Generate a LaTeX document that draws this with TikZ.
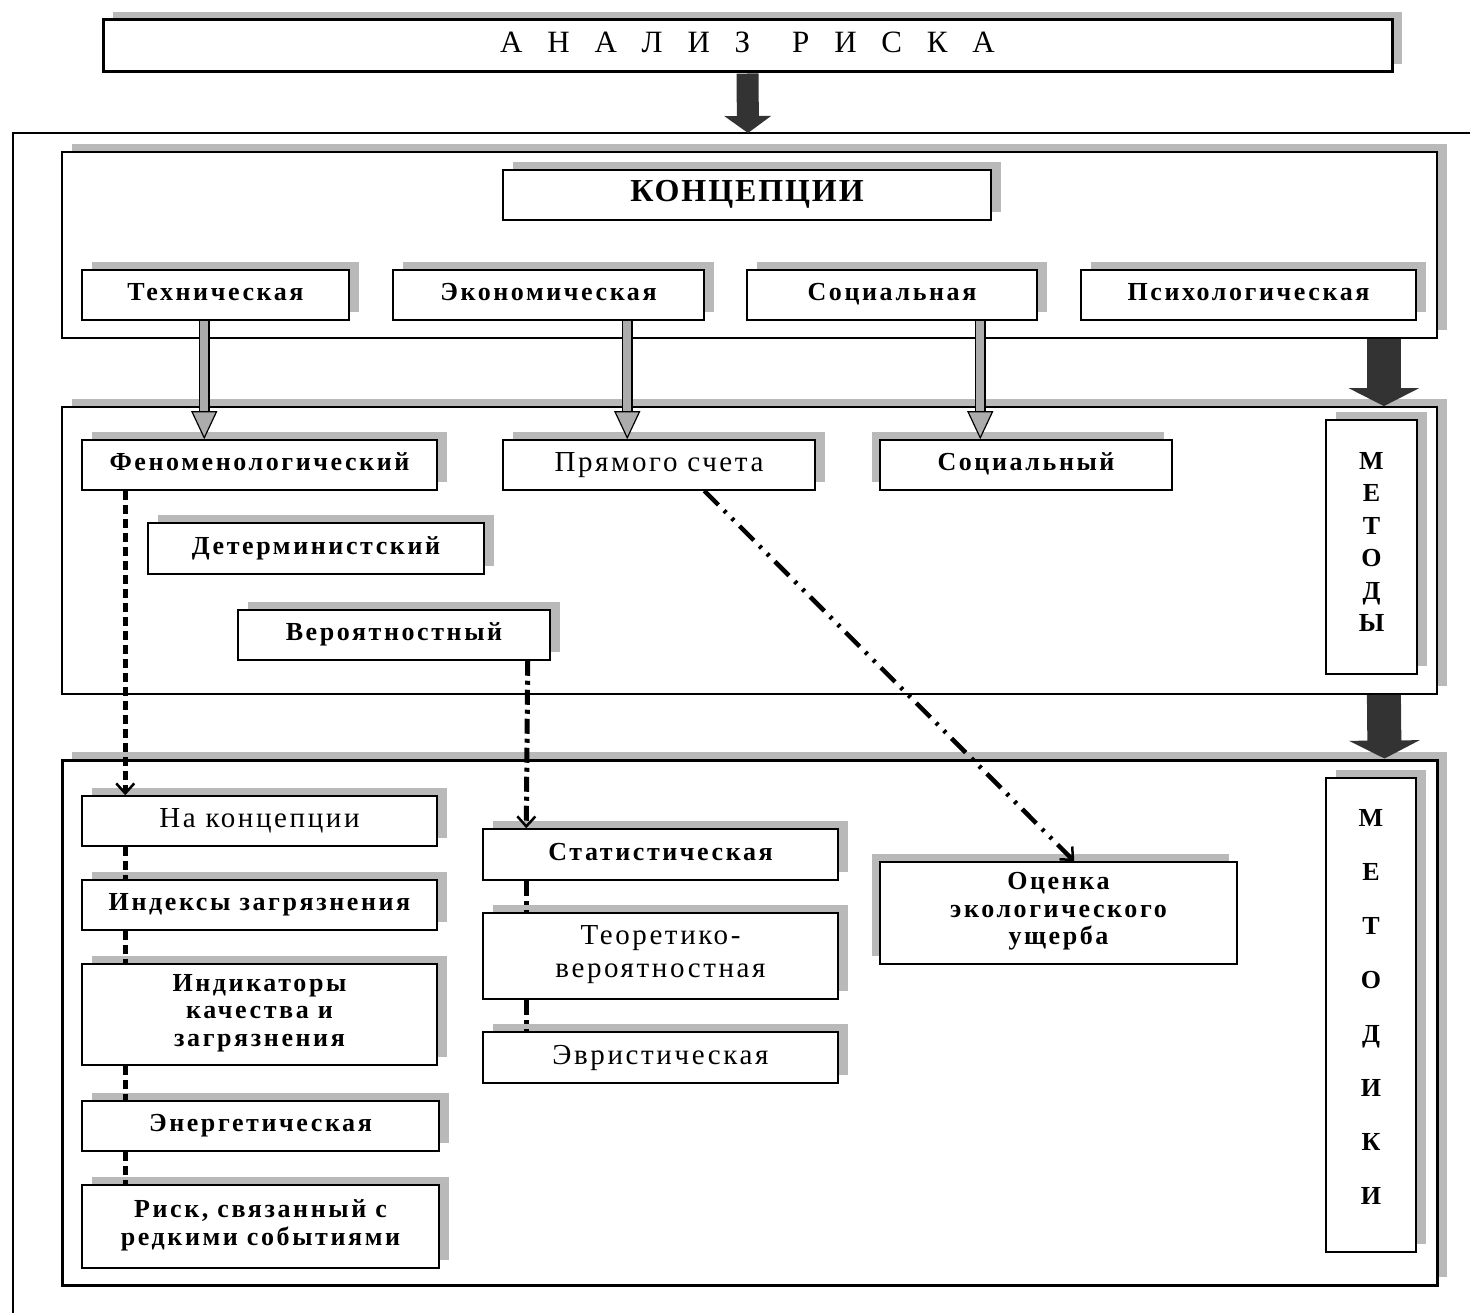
\documentclass[tikz,border=0pt]{standalone}
\usepackage{fontspec}
\setmainfont{Liberation Serif}
\usetikzlibrary{arrows.meta,shadows}
\newcommand{\labelfont}{\fontsize{26}{27.5}\selectfont\bfseries\addfontfeature{LetterSpace=10}}
\newcommand{\bigfont}{\fontsize{29}{33}\selectfont\addfontfeature{LetterSpace=9}}
\newcommand{\letterfont}{\fontsize{26}{32.5}\selectfont\bfseries}
\tikzstyle{plainbox}=[
        draw=black,
        line width=1.5pt,
        fill=white,
        inner sep=0pt,
        align=center,
        font=\labelfont,
        execute at begin node=\strut,
        execute at end node=\strut
]
\tikzstyle{rshadow}=[general shadow={fill=gray!55, shadow xshift=10pt, shadow yshift=8pt}]
\tikzstyle{lshadow}=[general shadow={fill=gray!55, shadow xshift=-8pt, shadow yshift=8pt}]
\tikzstyle{itembox}=[plainbox, rshadow]
\tikzstyle{leftbox}=[plainbox, lshadow]
\tikzstyle{areabox}=[plainbox, rshadow, line width=1.8pt]
\tikzstyle{lettercol}=[itembox, execute at begin node={}, execute at end node={}]
\tikzstyle{bigarrow}=[
        draw=black!80,
        line width=22pt,
        -{Triangle[length=17pt,width=46pt]}
]
\tikzstyle{grayarrow}=[
        draw=black,
        line width=11pt,
        -{Triangle[length=28pt,width=26pt,fill=gray!65,line width=1.2pt]},
        postaction={draw=gray!65, line width=8pt, -, shorten >=28pt}
]
\tikzstyle{dashlink}=[
        line width=4.5pt,
        dash pattern=on 9pt off 5pt
]
\tikzstyle{dotlink}=[
        line width=5pt,
        dash pattern=on 15pt off 5pt on 4pt off 5pt
]
\tikzstyle{dotdotlink}=[
        line width=4.5pt,
        dash pattern=on 20pt off 8pt on 3pt off 8pt on 3pt off 8pt
]
\tikzstyle{barb}=[-{Straight Barb[length=10pt,width=18pt,line width=2.5pt]}]

\begin{document}
\begin{tikzpicture}[x=1pt,y=-1pt]
    \path[use as bounding box, fill=white] (0,0) rectangle (1470,1313);

    % title and outer frame
    \node[plainbox, rshadow, line width=3pt, minimum width=1289pt, minimum height=52pt,
          font=\fontsize{31}{32}\selectfont\addfontfeature{LetterSpace=80}]
          (title) at (747.5,46) {АНАЛИЗ\hspace{42pt}РИСКА};
    \coordinate (frametop) at (748,133);
    \draw[line width=2.5pt] (13,1313) -- (13,133) -- (1470,133);
    \draw[bigarrow] (title.south) -- (frametop);

    % concepts
    \node[areabox, minimum width=1375pt, minimum height=186pt] (conceptframe) at (749.5,245) {};
    \node[itembox, minimum width=488pt, minimum height=50pt,
          font=\fontsize{32}{34}\selectfont\bfseries\addfontfeature{LetterSpace=6}]
          (konc) at (747,195) {КОНЦЕПЦИИ};
    \node[itembox, minimum width=267pt, minimum height=50pt] (tech) at (215.5,295) {Техническая};
    \node[itembox, minimum width=311pt, minimum height=50pt] (econ) at (548.5,295) {Экономическая};
    \node[itembox, minimum width=290pt, minimum height=50pt] (soc) at (892,295) {Социальная};
    \node[itembox, minimum width=335pt, minimum height=50pt] (psy) at (1248.5,295) {Психологическая};

    % methods
    \node[areabox, minimum width=1375pt, minimum height=287pt] (methframe) at (749.5,550.5) {};
    \node[itembox, minimum width=355pt, minimum height=50pt] (phen) at (259.5,465) {Феноменологический};
    \node[itembox, minimum width=312pt, minimum height=50pt, font=\bigfont] (direct) at (659,465) {Прямого счета};
    \node[leftbox, minimum width=292pt, minimum height=50pt] (socm) at (1026,465) {Социальный};
    \node[itembox, minimum width=336pt, minimum height=51pt] (determ) at (316,548.5) {Детерминистский};
    \node[itembox, minimum width=312pt, minimum height=50pt] (prob) at (394,635) {Вероятностный};
    \node[lettercol, minimum width=91pt, minimum height=254pt, font=\letterfont]
          (methods) at (1371.5,547) {М\\Е\\Т\\О\\Д\\Ы};

    % techniques
    \node[areabox, line width=3pt, minimum width=1375pt, minimum height=525pt] (techframe) at (749.5,1022.5) {};
    \node[itembox, minimum width=355pt, minimum height=50pt, font=\bigfont] (nakonc) at (259.5,821) {На концепции};
    \node[itembox, minimum width=355pt, minimum height=50pt] (index) at (259.5,905) {Индексы загрязнения};
    \node[itembox, minimum width=355pt, minimum height=101pt] (indic) at (259.5,1014.5) {Индикаторы\\качества и\\загрязнения};
    \node[itembox, minimum width=357pt, minimum height=50pt] (energ) at (260.5,1126) {Энергетическая};
    \node[itembox, minimum width=357pt, minimum height=83pt] (rare) at (260.5,1226.5) {Риск, связанный с\\редкими событиями};
    \node[itembox, minimum width=355pt, minimum height=51pt] (stat) at (660.5,854.5) {Статистическая};
    \node[itembox, minimum width=355pt, minimum height=86pt, font=\bigfont] (theor) at (660.5,956) {Теоретико-\\вероятностная};
    \node[itembox, minimum width=355pt, minimum height=51pt, font=\bigfont] (heur) at (660.5,1057.5) {Эвристическая};
    \node[leftbox, minimum width=357pt, minimum height=102pt] (eco) at (1058.5,913) {Оценка\\экологического\\ущерба};
    \node[lettercol, minimum width=90pt, minimum height=474pt,
          font=\fontsize{26}{54.1}\selectfont\bfseries]
          (methodics) at (1371,1015) {М\\Е\\Т\\О\\Д\\И\\К\\И};

    % big arrows on the right
    \draw[bigarrow, line width=34pt, -{Triangle[length=18pt,width=70pt]}]
        ([xshift=-54pt]conceptframe.south east) -- ([xshift=-54pt]methframe.north east);
    \draw[bigarrow, line width=34pt, -{Triangle[length=18pt,width=70pt]}]
        ([xshift=-54pt]methframe.south east) -- ([xshift=-54pt]techframe.north east);

    % concepts to methods
    \draw[grayarrow] ([xshift=123pt]tech.south west) -- ([xshift=123pt]phen.north west);
    \draw[grayarrow] ([xshift=235pt]econ.south west) -- ([xshift=125pt]direct.north west);
    \draw[grayarrow] ([xshift=234pt]soc.south west) -- ([xshift=101pt]socm.north west);

    % methods to techniques
    \draw[dashlink, barb] ([xshift=44pt]phen.south west) -- ([xshift=44pt]nakonc.north west);
    \draw[dashlink] ([xshift=44pt]nakonc.south west) -- ([xshift=44pt]index.north west);
    \draw[dashlink] ([xshift=44pt]index.south west) -- ([xshift=44pt]indic.north west);
    \draw[dashlink] ([xshift=44pt]indic.south west) -- ([xshift=44pt]energ.north west);
    \draw[dashlink] ([xshift=44pt]energ.south west) -- ([xshift=44pt]rare.north west);

    \draw[dotlink, barb] ([xshift=-23pt]prob.south east) -- ([xshift=44pt]stat.north west);
    \draw[dotlink] ([xshift=44pt]stat.south west) -- ([xshift=44pt]theor.north west);
    \draw[dotlink] ([xshift=44pt]theor.south west) -- ([xshift=44pt]heur.north west);

    \draw[dotdotlink, barb] ([xshift=202pt]direct.south west) -- ([xshift=195pt]eco.north west);
\end{tikzpicture}
\end{document}
